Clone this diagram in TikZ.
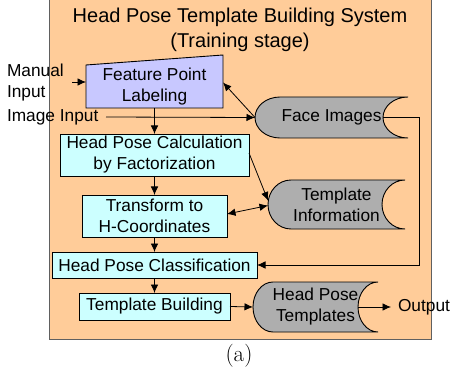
\documentclass[tikz,border=0pt]{standalone}
\usepackage{fontspec}
\newfontfamily\diagfont{Liberation Sans}
\usetikzlibrary{arrows.meta,calc,backgrounds}

\definecolor{panelfill}{HTML}{FFCC99}
\definecolor{panelline}{HTML}{606060}
\definecolor{procfill}{HTML}{CCFFFF}
\definecolor{manualfill}{HTML}{C8C8FF}
\definecolor{storefill}{HTML}{AEAEAE}

% stored-data outline around a node: #1 node, #2 curve depth, #3 half height (pt)
\newcommand\storedshape[3]{%
  \filldraw[store] ($(#1.north west)+(#2,0)$) -- (#1.north east)
    arc[start angle=90,end angle=270,x radius=#2pt,y radius=#3pt]
    -- ($(#1.south west)+(#2,0)$)
    arc[start angle=270,end angle=90,x radius=#2pt,y radius=#3pt] -- cycle;}

\begin{document}
\begin{tikzpicture}[x=1pt,y=-1pt,
  every node/.style={inner sep=0pt,outer sep=0pt},
  lbl/.style={font=\diagfont\fontsize{17.3}{21}\selectfont,align=center},
  titlefont/.style={font=\diagfont\fontsize{20}{25}\selectfont,align=center},
  proc/.style={lbl,draw=black,line width=0.9pt,fill=procfill},
  store/.style={draw=black,line width=0.9pt,fill=storefill},
  manual/.style={draw=black,line width=0.9pt,fill=manualfill},
  tip/.tip={Latex[length=8.5pt,width=7.5pt]},
  arr/.style={-tip,line width=0.8pt},
  arrboth/.style={tip-tip,line width=0.8pt}]
\useasboundingbox (0,0) rectangle (450,385);

% title
\node[titlefont] (title) at (240,29.5) {Head Pose Template Building System\\(Training stage)};

% process boxes
\node[lbl,minimum width=137,minimum height=43] (fpl) at (154.5,86.5) {Feature Point\\Labeling};
\node[proc,minimum width=189,minimum height=42] (calc) at (154.5,155) {Head Pose Calculation\\by Factorization};
\node[proc,minimum width=145,minimum height=42] (trans) at (154.5,216) {Transform to\\H-Coordinates};
\node[proc,minimum width=205,minimum height=26] (class) at (154.5,265) {Head Pose Classification};
\node[proc,minimum width=151,minimum height=27] (build) at (154.5,306.5) {Template Building};

% data stores
\node[lbl,minimum width=153,minimum height=41] (fimg) at (331.5,117.5) {Face Images};
\node[lbl,minimum width=137,minimum height=49] (tinfo) at (336.5,204.5) {Template\\Information};
\node[lbl,minimum width=125,minimum height=50] (hpt) at (315.5,307) {Head Pose\\Templates};

% outer labels
\node[lbl,align=left,anchor=west] (manual) at (7,83) {Manual\\Input};
\node[lbl,anchor=west] (imgin) at (7,117) {Image Input};
\node[lbl,anchor=west] (out) at (398,307) {Output};
\node[font=\fontsize{23}{27}\selectfont] (cap) at (239,356) {(a)};

\begin{pgfonlayer}{background}
  \fill[panelfill] (49,-5) rectangle (431,339);
  \draw[panelline,line width=1pt] (49,-5) -- (49,339) -- (431,339) -- (431,-5);
  \filldraw[manual] (fpl.north west) -- ($(fpl.north east)+(0,-10)$)
    -- (fpl.south east) -- (fpl.south west) -- cycle;
  \storedshape{fimg}{25}{20.5}
  \storedshape{tinfo}{23}{24.5}
  \storedshape{hpt}{20}{25}
\end{pgfonlayer}

% connectors
\coordinate (manin) at (72,82);
\coordinate (imgstart) at (106,117);
\coordinate (loop) at (419,265);
\draw[arr] (manin) -- (fpl.west |- manin);
\draw[arr] (imgstart) -- (fimg.west);
\draw[arr] (fimg.west) -- ($(fpl.east)+(0,-4)$);
\draw[arr] (fpl.south) -- (calc.north);
\draw[arr] (calc.south) -- (trans.north);
\draw[arr] (trans.south) -- (class.north);
\draw[arr] (class.south) -- (build.north);
\draw[arr] ($(calc.east)+(0,-2)$) -- ($(tinfo.west)+(0,-4)$);
\draw[arrboth] ($(trans.east)+(0,-2)$) -- ($(tinfo.west)+(0,1)$);
\draw[arr] ($(fimg.east)+(-25,0)$) -| (loop) -- (class.east);
\draw[arr] (build.east) -- (hpt.west);
\draw[arr] ($(hpt.east)+(-20,0)$) -- ($(out.west)+(-7,0)$);
\end{tikzpicture}
\end{document}
